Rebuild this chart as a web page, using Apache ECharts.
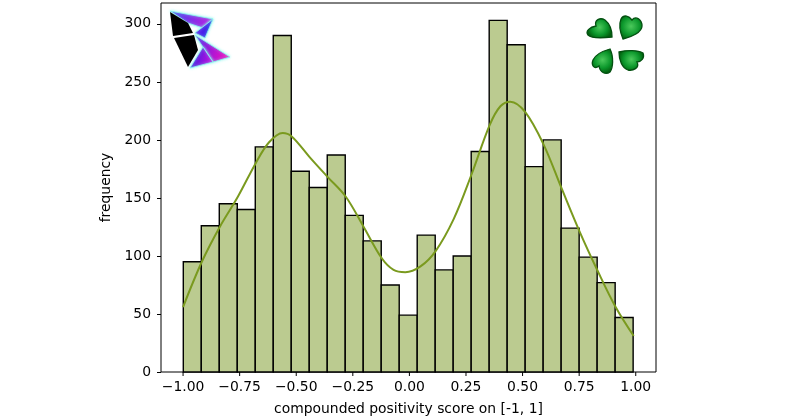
<!DOCTYPE html>
<html><head><meta charset="utf-8">
<style>html,body{margin:0;padding:0;background:#fff}#c{width:800px;height:416px}</style>
<script src="https://cdn.jsdelivr.net/npm/echarts@6/dist/echarts.min.js"></script>
</head><body><div id="c"></div>
<script>
const binStart = -0.999;
const binWidth = 0.0795;
const counts = [95,126,145,140,194,290,173,159,187,135,113,75,49,118,88,100,190,303,282,177,200,124,99,77,47];
const kdeX = [-1.0,-0.917,-0.838,-0.758,-0.679,-0.62,-0.56,-0.52,-0.44,-0.361,-0.281,-0.202,-0.122,-0.07,-0.018,0.049,0.115,0.196,0.274,0.355,0.402,0.446,0.512,0.593,0.673,0.752,0.832,0.911,0.991];
const kdeY = [56,95,125,151,180,198,206,203,185,168,151,125,98,88,86,91,104,132,170,213,229,233,224,196,158,121,87,56,31];
const xTicks = [-1,-0.75,-0.5,-0.25,0,0.25,0.5,0.75,1];
const xLabels = ['\u22121.00','\u22120.75','\u22120.50','\u22120.25','0.00','0.25','0.50','0.75','1.00'];
const xName = 'compounded positivity score on [-1, 1]';
const yName = 'frequency';

const chart = echarts.init(document.getElementById('c'), null, {renderer:'canvas'});
const font = 'DejaVu Sans';
const fs = 13.9;
const bars = counts.map((v,i)=>[binStart+i*binWidth, binStart+(i+1)*binWidth, v]);
const line = kdeX.map((x,i)=>[x,kdeY[i]]);
const RG = ()=>new echarts.graphic.RadialGradient(0.5,0.45,0.62,[{offset:0,color:'#4cc95c'},{offset:0.6,color:'#0c982c'},{offset:1,color:'#02600e'}]);
const leaves = [
 'M612 37 C603 38 592 39 588 35 C585 31 590 27 596 26 C594 20 600 17 605 20 C610 24 612 30 612 37 Z',
 'M623 39 C620 32 619 24 621 19 C624 14 629 16 632 20 C636 15 642 20 642 26 C642 32 632 37 623 39 Z',
 'M610 49 C614 57 613 68 610 72 C606 75 600 73 599 66 C594 70 591 65 593 60 C595 55 603 51 610 49 Z',
 'M619 52 C627 50 638 50 643 53 C645 58 641 62 637 62 C640 68 633 71 628 70 C622 68 619 60 619 52 Z'
];
function kite(pts, c1, c2){
  return {type:'polygon', shape:{points:pts}, style:{fill:new echarts.graphic.LinearGradient(0,0,1,0.3,[{offset:0,color:c1},{offset:1,color:c2}]),stroke:'#8df7ef',lineWidth:0.8,shadowBlur:3,shadowColor:'#8df7ef'}, z:20};
}
chart.setOption({
  animation:false,
  backgroundColor:'#fff',
  grid:{left:161,top:3,width:495,height:369,outerBoundsMode:'none',show:true,borderColor:'#000',borderWidth:1,backgroundColor:'transparent'},
  xAxis:{type:'value',min:-1.0975,max:1.0895,
    name:xName,nameLocation:'middle',nameGap:30,nameTextStyle:{fontFamily:font,fontSize:fs,color:'#000'},
    axisLine:{show:false,onZero:false},axisTick:{show:false},splitLine:{show:false},axisLabel:{show:false}},
  yAxis:{type:'value',min:0,max:318,interval:50,
    name:yName,nameLocation:'middle',nameGap:41,nameTextStyle:{fontFamily:font,fontSize:fs,color:'#000'},
    axisLine:{show:false,onZero:false},axisTick:{show:true,length:4,lineStyle:{color:'#000',width:1}},splitLine:{show:false},
    axisLabel:{fontFamily:font,fontSize:fs,color:'#000',margin:10,showMaxLabel:false}},
  series:[
    {type:'custom',coordinateSystem:'cartesian2d',encode:{x:[0,1],y:2},data:bars,z:2,
      renderItem:(p,api)=>{const a=api.coord([api.value(0),api.value(2)]);const b=api.coord([api.value(1),0]);
        return {type:'rect',shape:{x:a[0],y:a[1],width:b[0]-a[0],height:b[1]-a[1]},style:{fill:'#bbcb90',stroke:'#000',lineWidth:1.4}};}},
    {type:'line',data:line,smooth:0.35,showSymbol:false,symbol:'none',z:3,lineStyle:{color:'#7a9a1e',width:2},silent:true},
    {type:'custom',coordinateSystem:'cartesian2d',encode:{x:0,y:1},data:xTicks.map(t=>[t,0]),z:4,clip:false,
      renderItem:(p,api)=>{const c=api.coord([api.value(0),0]);
        return {type:'group',children:[
          {type:'line',shape:{x1:c[0],y1:c[1],x2:c[0],y2:c[1]+4},style:{stroke:'#000',lineWidth:1}},
          {type:'text',x:c[0],y:c[1]+8,style:{text:xLabels[p.dataIndex],fontFamily:font,fontSize:fs,fill:'#000',align:'center',verticalAlign:'top'}}
        ]};}},
    {type:'custom',coordinateSystem:'cartesian2d',encode:{x:0,y:1},data:[[0,0]],z:20,clip:false,silent:true,
      renderItem:()=>({type:'group',children:leaves.map(d=>({type:'path',shape:{pathData:d},style:{fill:RG(),stroke:'#035010',lineWidth:1.3}}))})}
  ],
  graphic:[
    kite([[170,11],[213,19],[203,28],[188,23]],'#4040f0','#c020e0'),
    kite([[213,19],[205,38],[195,33]],'#7a10f0','#2828e8'),
    kite([[195,35],[230,57],[213,62],[203,47]],'#5020f0','#f010c0'),
    kite([[203,47],[213,62],[190,68]],'#2020e0','#c010e0'),
    {type:'polygon',shape:{points:[[170,12],[188,23],[193,33],[173,36]]},style:{fill:'#000'},z:21},
    {type:'polygon',shape:{points:[[174,38],[194,35],[198,50],[188,67]]},style:{fill:'#000'},z:21}
  ]
});
</script></body></html>
